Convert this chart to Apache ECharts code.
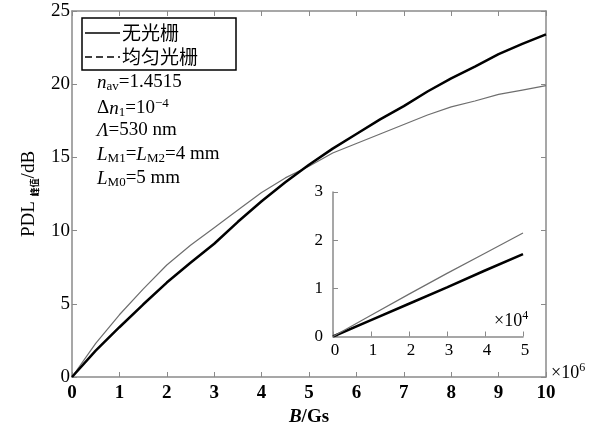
<!DOCTYPE html>
<html><head><meta charset="utf-8">
<script src="https://cdn.jsdelivr.net/npm/echarts@6/dist/echarts.min.js"></script>
<style>html,body{margin:0;padding:0;background:#fff}#c{width:598px;height:432px}</style>
</head><body><div id="c"></div>
<script>
// Main chart: B (x10^6 Gs) vs PDL peak (dB)
const xMain = [0,0.5,1,1.5,2,2.5,3,3.5,4,4.5,5,5.5,6,6.5,7,7.5,8,8.5,9,9.5,10];
const noGrating = [0,1.8,3.4,4.95,6.45,7.8,9.1,10.6,12.0,13.3,14.5,15.6,16.6,17.6,18.5,19.5,20.4,21.2,22.05,22.75,23.4];
const uniformGrating = [0,2.3,4.25,6.0,7.65,9.0,10.2,11.4,12.6,13.6,14.4,15.3,15.95,16.6,17.25,17.9,18.45,18.85,19.3,19.6,19.9];
// Inset: B (x10^4 Gs)
const xInset = [0,1,2,3,4,5];
const insetNoGrating = [0,0.34,0.68,1.02,1.37,1.71];
const insetUniform = [0,0.44,0.88,1.31,1.73,2.15];
const seriesNames = ['无光栅','均匀光栅'];
const xTicksMain = [0,1,2,3,4,5,6,7,8,9,10];

const pair = (xs, ys) => xs.map((x,i)=>[x, ys[i]]);
const AX = '#8a8a8a';
const SERIF = '"Liberation Serif","Times New Roman",serif';
const CJK = '"Noto Sans CJK SC",sans-serif';
const FS = 19;
const chart = echarts.init(document.getElementById('c'));
const baseAxis = {
  axisLine:{show:true,onZero:false,lineStyle:{color:AX,width:1.5}},
  axisTick:{show:true,inside:true,length:5,lineStyle:{color:AX,width:1}},
  splitLine:{show:false}
};
const ann = {
  i:{fontFamily:SERIF,fontStyle:'italic',fontSize:FS,fill:'#000'},
  s:{fontFamily:SERIF,fontSize:13,fill:'#000',padding:[9,0,0,0]},
  p:{fontFamily:SERIF,fontSize:13,fill:'#000',padding:[0,0,10,0]},
  r:{fontFamily:SERIF,fontSize:FS,fill:'#000'}
};
chart.setOption({
  backgroundColor:'#fff',
  animation:false,
  grid:[
    {left:72,right:52,top:11,bottom:49.5},
    {left:333,width:190,top:192,height:144.5}
  ],
  xAxis:[
    Object.assign({}, baseAxis, {type:'value',gridIndex:0,min:0,max:10,interval:1,position:'bottom',
      axisLabel:{fontFamily:SERIF,fontWeight:'bold',fontSize:FS,color:'#000',margin:7,
        formatter:v=>xTicksMain.includes(v)?String(v):''},
      name:'{i|B}{n|/Gs}', nameLocation:'middle', nameGap:31,
      nameTextStyle:{rich:{i:{fontFamily:SERIF,fontStyle:'italic',fontWeight:'bold',fontSize:FS,color:'#000'},
        n:{fontFamily:SERIF,fontWeight:'bold',fontSize:FS,color:'#000'}}}}),
    Object.assign({}, baseAxis, {type:'value',gridIndex:0,min:0,max:10,interval:1,position:'top',axisLabel:{show:false}}),
    Object.assign({}, baseAxis, {type:'value',gridIndex:1,min:0,max:5,interval:1,position:'bottom',
      axisLabel:{fontFamily:SERIF,fontSize:17,color:'#000',margin:6,padding:[0,0,0,4]}})
  ],
  yAxis:[
    Object.assign({}, baseAxis, {type:'value',gridIndex:0,min:0,max:25,interval:5,position:'left',
      axisLabel:{fontFamily:SERIF,fontSize:FS,color:'#000',margin:2},
      name:'PDL {s|峰值}/dB', nameLocation:'middle', nameGap:33,
      nameTextStyle:{fontFamily:SERIF,fontSize:FS,color:'#000',
        rich:{s:{fontFamily:CJK,fontSize:9,fontWeight:'bold',color:'#000',verticalAlign:'bottom'}}}}),
    Object.assign({}, baseAxis, {type:'value',gridIndex:0,min:0,max:25,interval:5,position:'right',axisLabel:{show:false}}),
    Object.assign({}, baseAxis, {type:'value',gridIndex:1,min:0,max:3,interval:1,position:'left',
      axisLabel:{fontFamily:SERIF,fontSize:17,color:'#000',margin:10}})
  ],
  series:[
    {name:seriesNames[0],type:'line',xAxisIndex:0,yAxisIndex:0,symbol:'none',
      lineStyle:{color:'#000',width:2.5},data:pair(xMain,noGrating),z:3},
    {name:seriesNames[1],type:'line',xAxisIndex:0,yAxisIndex:0,symbol:'none',
      lineStyle:{color:'#6e6e6e',width:1.2},data:pair(xMain,uniformGrating),z:2},
    {name:seriesNames[0],type:'line',xAxisIndex:2,yAxisIndex:2,symbol:'none',
      lineStyle:{color:'#000',width:2.5},data:pair(xInset,insetNoGrating)},
    {name:seriesNames[1],type:'line',xAxisIndex:2,yAxisIndex:2,symbol:'none',
      lineStyle:{color:'#6e6e6e',width:1.2},data:pair(xInset,insetUniform)}
  ],
  graphic:[
    // legend box
    {type:'rect',shape:{x:82,y:18,width:154,height:52},style:{fill:'#fff',stroke:'#000',lineWidth:1.5},z:10},
    {type:'line',shape:{x1:85,y1:33,x2:120,y2:33},style:{stroke:'#000',lineWidth:1.5},z:11},
    {type:'text',x:122,y:33,style:{text:seriesNames[0],font:'19px '+CJK,fill:'#000',verticalAlign:'middle'},z:11},
    {type:'line',shape:{x1:85,y1:57,x2:120,y2:57},style:{stroke:'#000',lineWidth:1.5,lineDash:[7,4]},z:11},
    {type:'text',x:122,y:57,style:{text:seriesNames[1],font:'19px '+CJK,fill:'#000',verticalAlign:'middle'},z:11},
    // annotations
    {type:'text',left:97,top:73,style:{text:'{i|n}{s|av}{r|=1.4515}',rich:ann}},
    {type:'text',left:97,top:97,style:{text:'{r|Δ}{i|n}{s|1}{r|=10}{p|−4}',rich:ann}},
    {type:'text',left:97,top:121,style:{text:'{i|Λ}{r|=530 nm}',rich:ann}},
    {type:'text',left:97,top:145,style:{text:'{i|L}{s|M1}{r|=}{i|L}{s|M2}{r|=4 mm}',rich:ann}},
    {type:'text',left:97,top:169,style:{text:'{i|L}{s|M0}{r|=5 mm}',rich:ann}},
    {type:'text',left:551,top:362,style:{text:'{r|×10}{p|6}',rich:{
      r:{fontFamily:SERIF,fontSize:18,fill:'#000'},
      p:{fontFamily:SERIF,fontSize:12,fill:'#000',padding:[0,0,10,0]}}}},
    {type:'text',left:494,top:310,style:{text:'{r|×10}{p|4}',rich:{
      r:{fontFamily:SERIF,fontSize:18,fill:'#000'},
      p:{fontFamily:SERIF,fontSize:12,fill:'#000',padding:[0,0,10,0]}}}}
  ]
});
</script></body></html>
